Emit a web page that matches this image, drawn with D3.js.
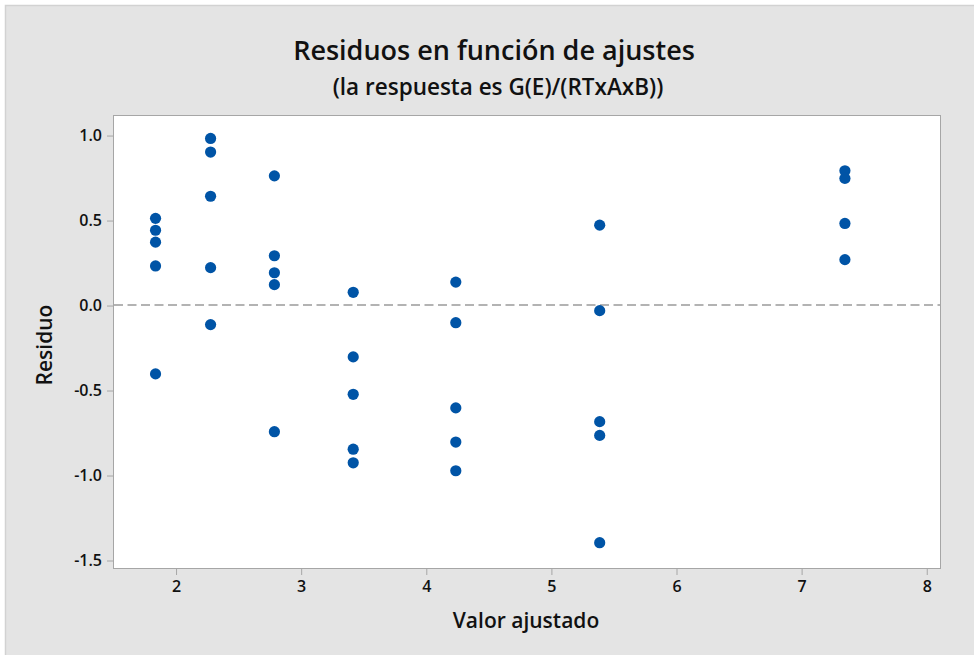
<!DOCTYPE html>
<html>
<head>
<meta charset="utf-8">
<script src="https://cdn.jsdelivr.net/npm/d3@7"></script>
<style>
	body { margin: 0; background: #ffffff; }
	text { font-family: "Open Sans", "Noto Sans", sans-serif; fill: #111; }
</style>
</head>
<body>
<div id="graph"></div>
<script>
let width = 974;
let height = 655;

// Plot area inside the grey panel:
let padding = {
	top: 115,
	right: 34,
	bottom: 87,
	left: 113
	};

// Fitted values (x) and residuals (y):
let fitted = [
	1.84, 1.84, 1.84, 1.84, 1.84,
	2.28, 2.28, 2.28, 2.28, 2.28,
	2.79, 2.79, 2.79, 2.79, 2.79,
	3.42, 3.42, 3.42, 3.42, 3.42,
	4.24, 4.24, 4.24, 4.24, 4.24,
	5.39, 5.39, 5.39, 5.39, 5.39,
	7.35, 7.35, 7.35, 7.35
	];
let residuals = [
	0.51, 0.44, 0.37, 0.23, -0.405,
	0.98, 0.90, 0.64, 0.22, -0.115,
	0.76, 0.29, 0.19, 0.12, -0.745,
	0.075, -0.305, -0.525, -0.848, -0.928,
	0.135, -0.104, -0.605, -0.806, -0.975,
	0.47, -0.033, -0.686, -0.767, -1.398,
	0.79, 0.745, 0.48, 0.267
	];
let xTicks = [2, 3, 4, 5, 6, 7, 8];
let yTicks = [1.0, 0.5, 0.0, -0.5, -1.0, -1.5];

let svg = d3.select("#graph")
	.append("svg")
		.attr("width", width)
		.attr("height", height)
	;

// Grey panel with a thin edge on the left and top:
svg.append("rect")
	.attr("x", 5)
	.attr("y", 5)
	.attr("width", width - 5)
	.attr("height", height - 5)
	.attr("fill", "#e4e4e4")
	;
svg.append("path")
	.attr("d", `M5.5,${height} V5.5 H${width}`)
	.attr("fill", "none")
	.attr("stroke", "#d2d2d2")
	.attr("stroke-width", 1.5)
	;

let xScale = d3.scaleLinear()
	.domain([1.5, 8.11])
	.range([padding.left, width - padding.right])
	;
let yScale = d3.scaleLinear()
	.domain([-1.547, 1.118])
	.range([height - padding.bottom, padding.top])
	;

// Plot background:
svg.append("rect")
	.attr("x", padding.left + 0.5)
	.attr("y", padding.top + 0.5)
	.attr("width", width - padding.right - padding.left)
	.attr("height", height - padding.bottom - padding.top)
	.attr("fill", "#ffffff")
	.attr("stroke", "#a6a6a6")
	.attr("stroke-width", 1)
	;

// Axes:
let xAxis = d3.axisBottom(xScale)
	.tickValues(xTicks)
	.tickSize(6)
	.tickSizeOuter(0)
	.tickPadding(6)
	.tickFormat(d3.format("d"))
	;
let yAxis = d3.axisLeft(yScale)
	.tickValues(yTicks)
	.tickSize(6)
	.tickSizeOuter(0)
	.tickPadding(5)
	.tickFormat(d3.format(".1f"))
	;

let gx = svg.append("g")
	.attr("transform", `translate(0.5, ${height - padding.bottom + 1})`)
	.call(xAxis)
	;
let gy = svg.append("g")
	.attr("transform", `translate(${padding.left}, 0.5)`)
	.call(yAxis)
	;
[gx, gy].forEach(g => {
	g.select(".domain").remove();
	g.selectAll(".tick line").attr("stroke", "#a6a6a6");
	g.selectAll(".tick text")
		.attr("fill", "#111")
		.style("font-family", "'Open Sans', sans-serif")
		.style("font-size", "16px")
		.style("font-weight", 600)
		;
	});
gy.selectAll(".tick text")
	.text(d => d3.format(".1f")(d).replace("\u2212", "-"));

// Zero reference line:
svg.append("line")
	.attr("x1", padding.left + 1)
	.attr("x2", width - padding.right)
	.attr("y1", yScale(0))
	.attr("y2", yScale(0))
	.attr("stroke", "#9a9a9a")
	.attr("stroke-width", 1.6)
	.attr("stroke-dasharray", "9,4.5")
	;

// Points:
svg.append("g")
	.selectAll("circle")
	.data(fitted.map((f, i) => ({ fit: f, res: residuals[i] })))
	.enter()
		.append("circle")
			.attr("cx", d => xScale(d.fit))
			.attr("cy", d => yScale(d.res))
			.attr("r", 5.6)
			.attr("fill", "#0054a6")
	;

// Titles:
svg.append("text")
	.attr("x", 494)
	.attr("y", 60)
	.attr("text-anchor", "middle")
	.style("font-size", "27px")
	.style("font-weight", 600)
	.text("Residuos en función de ajustes")
	;
svg.append("text")
	.attr("x", 498)
	.attr("y", 95)
	.attr("text-anchor", "middle")
	.style("font-size", "22.5px")
	.style("font-weight", 600)
	.text("(la respuesta es G(E)/(RTxAxB))")
	;
svg.append("text")
	.attr("x", 526)
	.attr("y", 628)
	.attr("text-anchor", "middle")
	.style("font-size", "21px")
	.style("font-weight", 600)
	.text("Valor ajustado")
	;
svg.append("text")
	.attr("transform", `translate(52, 345) rotate(-90)`)
	.attr("text-anchor", "middle")
	.style("font-size", "21px")
	.style("font-weight", 600)
	.text("Residuo")
	;
</script>
</body>
</html>
